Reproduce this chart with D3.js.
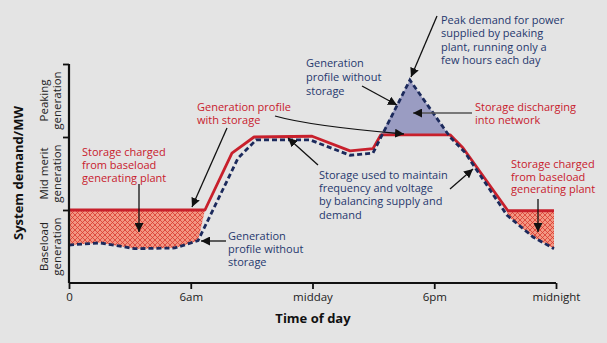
<!DOCTYPE html>
<html><head><meta charset="utf-8">
<script src="https://cdn.jsdelivr.net/npm/d3@7"></script>
<style>
html,body{margin:0;padding:0;background:#e4e4e4;}
svg{display:block;font-family:"Open Sans",sans-serif;}
</style></head>
<body><svg id="c" width="607" height="343"></svg>
<script>
// ---- data (hours of day, demand in arbitrary MW units: 0-100 baseload, 100-200 mid merit, 200-300 peaking)
const withStorageHours  = [0, 6.70, 8.03, 9.12, 11.98, 13.85, 14.98, 15.37, 18.78, 19.42, 21.63, 23.90];
const withStorageValues = [100, 100, 178, 200, 201, 181, 184, 203, 203, 185, 99, 99];
const withoutStorageHours  = [0, 1.53, 3.25, 5.22, 6.36, 8.33, 9.22, 11.88, 13.85, 14.98, 16.80, 18.78, 19.51, 21.58, 22.87, 23.90];
const withoutStorageValues = [52, 55, 47, 48, 58, 171, 196, 196, 175, 178, 278, 200, 179, 93, 63, 47];
const tickHours = [0, 6, 12, 18, 24];
const tickLabels = ["0", "6am", "midday", "6pm", "midnight"];
const bandBounds = [0, 100, 200, 300];
const bandLabels = [["Baseload", "generation"], ["Mid merit", "generation"], ["Peaking", "generation"]];
const chargeWindows = [[0, 6.70], [21.58, 23.90]];
const dischargeWindow = [15.37, 18.78];

const RED = "#c8202c", NAVY = "#1c2a5c", NAVYTXT = "#26386e";
const svg = d3.select("#c");
const x = d3.scaleLinear().domain([0, 24]).range([69, 556]);
const y = d3.scaleLinear().domain([0, 300]).range([283, 64]);

const red = withStorageHours.map((h, i) => [h, withStorageValues[i]]);
const blue = withoutStorageHours.map((h, i) => [h, withoutStorageValues[i]]);

const defs = svg.append("defs");
const pat = defs.append("pattern").attr("id", "hatch").attr("patternUnits", "userSpaceOnUse")
  .attr("width", 5).attr("height", 5);
pat.append("rect").attr("width", 5).attr("height", 5).attr("fill", "#f29682");
pat.append("path").attr("d", "M0,0L5,5M5,0L0,5M-1,4L1,6M4,-1L6,1M-1,1L1,-1M4,6L6,4").attr("stroke", "#d9392e").attr("stroke-width", 0.8);
const mk = defs.append("marker").attr("id", "ah").attr("viewBox", "0 0 10 10").attr("refX", 10).attr("refY", 5)
  .attr("markerWidth", 9).attr("markerHeight", 9).attr("markerUnits", "userSpaceOnUse").attr("orient", "auto");
mk.append("path").attr("d", "M0,0L10,5L0,10Z").attr("fill", "#111");
const mkg = defs.append("marker").attr("id", "ahg").attr("viewBox", "0 0 10 10").attr("refX", 10).attr("refY", 5)
  .attr("markerWidth", 9).attr("markerHeight", 9).attr("markerUnits", "userSpaceOnUse").attr("orient", "auto");
mkg.append("path").attr("d", "M0,0L10,5L0,10Z").attr("fill", "#111");

const line = d3.line().x(d => x(d[0])).y(d => y(d[1]));
function region(a, b) {
  const top = red.filter(d => d[0] >= a && d[0] <= b);
  const bot = blue.filter(d => d[0] >= a && d[0] <= b).reverse();
  return line(top.concat(bot)) + "Z";
}
chargeWindows.forEach(w => svg.append("path").attr("d", region(w[0], w[1])).attr("fill", "url(#hatch)"));
svg.append("path").attr("d", region(dischargeWindow[0], dischargeWindow[1])).attr("fill", "#9a9cc2");

// curves
svg.append("path").attr("d", line(red)).attr("fill", "none").attr("stroke", RED).attr("stroke-width", 2.8).attr("stroke-linejoin", "round");
svg.append("path").attr("d", line(blue)).attr("fill", "none").attr("stroke", NAVY).attr("stroke-width", 2.8)
  .attr("stroke-dasharray", "5,3");

// axes
const xa = svg.append("g").attr("transform", `translate(0,${y(0)})`)
  .call(d3.axisBottom(x).tickValues(tickHours).tickFormat((d, i) => tickLabels[i]).tickSize(6).tickPadding(4));
xa.select(".domain").attr("stroke", "#111").attr("stroke-width", 2.2).attr("d", `M${x(0)},0H${x(24)}`);
xa.selectAll(".tick line").attr("stroke", "#111").attr("stroke-width", 1.8);
xa.selectAll(".tick text").attr("font-size", 11.5).attr("fill", "#222").attr("font-family", "Open Sans");
const ya = svg.append("g").attr("transform", `translate(${x(0)},0)`)
  .call(d3.axisLeft(y).tickValues(bandBounds.slice(1)).tickFormat("").tickSize(6));
ya.select(".domain").attr("stroke", "#111").attr("stroke-width", 2.2).attr("d", `M0,${y(300)}V${y(0)}`);
ya.selectAll(".tick line").attr("stroke", "#111").attr("stroke-width", 1.8);

// band labels
bandLabels.forEach((lab, i) => {
  const cy = y((bandBounds[i] + bandBounds[i + 1]) / 2);
  const t = svg.append("text").attr("transform", `translate(44,${cy}) rotate(-90)`)
    .attr("text-anchor", "middle").attr("font-size", 11.5).attr("fill", "#222");
  lab.forEach((s, j) => t.append("tspan").attr("x", 0).attr("y", j * 13 + 4).text(s));
});
svg.append("text").attr("transform", "translate(23,173) rotate(-90)").attr("text-anchor", "middle")
  .attr("font-size", 13).attr("font-weight", "bold").attr("fill", "#111").text("System demand/MW");
svg.append("text").attr("x", 313).attr("y", 323).attr("text-anchor", "middle")
  .attr("font-size", 13).attr("font-weight", "bold").attr("fill", "#111").text("Time of day");

// annotations
function label(lines, px, py, color, lh) {
  const t = svg.append("text").attr("font-size", 11).attr("fill", color);
  lines.forEach((s, j) => t.append("tspan").attr("x", px).attr("y", py + j * (lh || 13.3)).text(s));
}
label(["Peak demand for power", "supplied by peaking", "plant, running only a", "few hours each day"], 441, 24, NAVYTXT, 13.4);
label(["Generation", "profile without", "storage"], 306, 67, NAVYTXT, 14);
label(["Storage discharging", "into network"], 475, 111, RED, 13);
label(["Generation profile", "with storage"], 197, 111, RED, 13);
label(["Storage charged", "from baseload", "generating plant"], 82, 156, RED, 13);
label(["Generation", "profile without", "storage"], 228, 240, NAVYTXT, 13);
label(["Storage used to maintain", "frequency and voltage", "by balancing supply and", "demand"], 319, 179, NAVYTXT, 13.2);
label(["Storage charged", "from baseload", "generating plant"], 511, 168, RED, 12.6);

function arrow(d, gray) {
  svg.append("path").attr("d", d).attr("fill", "none").attr("stroke", gray ? "#555" : "#111")
    .attr("stroke-width", 1.3).attr("marker-end", gray ? "url(#ahg)" : "url(#ah)");
}
arrow("M437,16L411,77");
arrow("M362,86L397,105");
arrow("M472,113L413,113", true);
arrow("M275,116Q310,126 404,134");
arrow("M227,128L192,207");
arrow("M318,165L288,138");
arrow("M450,189L473,169");
arrow("M139,184L139,232");
arrow("M226,241L201,241");
arrow("M538,199L538,232");
</script></body></html>
